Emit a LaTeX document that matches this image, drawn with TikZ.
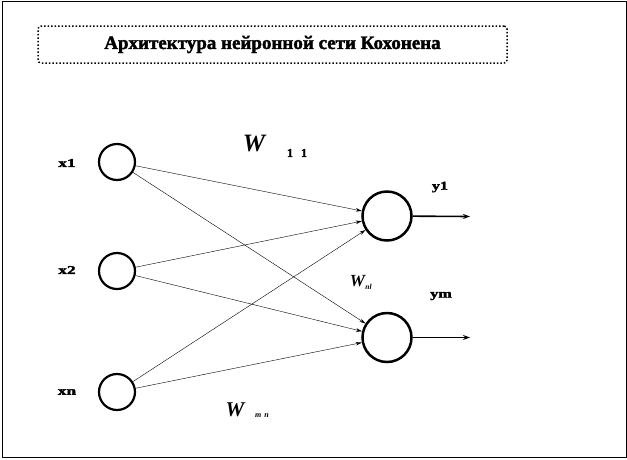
\documentclass[tikz,border=0pt]{standalone}
\usepackage{fontspec}
\setmainfont{Liberation Serif}[BoldFeatures={FakeBold=2}]
\usetikzlibrary{arrows.meta}
\tikzset{
  inneuron/.style={circle, draw, line width=2.2pt, minimum size=36pt, inner sep=0pt},
  outneuron/.style={circle, draw, line width=2.5pt, minimum size=49pt, inner sep=0pt},
  conn/.style={draw, line width=0.4pt, -{Stealth[length=6pt,width=3.5pt]}},
  outarrow/.style={draw, line width=1.6pt, -{Stealth[length=7pt,width=5pt]}},
  lbl/.style={font=\bfseries\fontsize{12}{13}\selectfont, inner sep=0pt},
}
\begin{document}
\begin{tikzpicture}[x=1pt,y=-1pt]
\useasboundingbox (0,0) rectangle (627,459);
% outer frame
\node[draw, line width=0.9pt, minimum width=624pt, minimum height=456pt, inner sep=0pt, anchor=north west] (frame) at (1.5,0.5) {};
% title
\node[draw, dotted, line width=1.5pt, rounded corners=3pt, minimum width=469pt, minimum height=37pt, inner sep=0pt,
      font=\bfseries\fontsize{19}{22}\selectfont] (title) at (272.5,44.5) {Архитектура нейронной сети Кохонена};
% neurons
\node[inneuron] (i1) at (117,162) {};
\node[inneuron] (i2) at (117,271) {};
\node[inneuron] (i3) at (117,392) {};
\node[outneuron] (o1) at (387,216) {};
\node[outneuron] (o2) at (387,337.5) {};
% input labels
\node[lbl] (lx1) at (67,163) {\scalebox{1.45}[1]{x1}};
\node[lbl] (lx2) at (67,270) {\scalebox{1.45}[1]{x2}};
\node[lbl] (lxn) at (67,392) {\scalebox{1.45}[1]{xn}};
% output labels
\node[lbl] (ly1) at (440,187) {\scalebox{1.35}[1]{y1}};
\node[lbl] (lym) at (441,296) {\scalebox{1.35}[1]{ym}};
% connections
\foreach \i in {i1,i2,i3}{
  \foreach \o in {o1,o2}{
    \path[conn] (\i) -- (\o);
  }
}
% outputs
\coordinate (e1) at (470,216.5);
\coordinate (e2) at (470,337.5);
\path[outarrow] (o1) -- (e1);
\path[outarrow] (o2) -- (e2);
% weight labels
\node[inner sep=0pt, font=\bfseries\itshape\fontsize{25}{28}\selectfont] (w11) at (254,143) {W};
\node[inner sep=0pt, font=\bfseries\fontsize{12}{13}\selectfont] (w11s) at (297,153) {1\hspace{8pt}1};
\node[inner sep=0pt, font=\itshape\bfseries\fontsize{17}{18}\selectfont] (wnl) at (357.5,281) {W};
\node[inner sep=0pt, font=\itshape\bfseries\fontsize{7.5}{8}\selectfont] (wnls) at (368.5,287) {nl};
\node[inner sep=0pt, font=\bfseries\itshape\fontsize{21}{22}\selectfont] (wmn) at (235,410) {W};
\node[inner sep=0pt, font=\itshape\bfseries\fontsize{8}{8}\selectfont] (wmns) at (262,416) {m\hspace{3pt}n};
\end{tikzpicture}
\end{document}
